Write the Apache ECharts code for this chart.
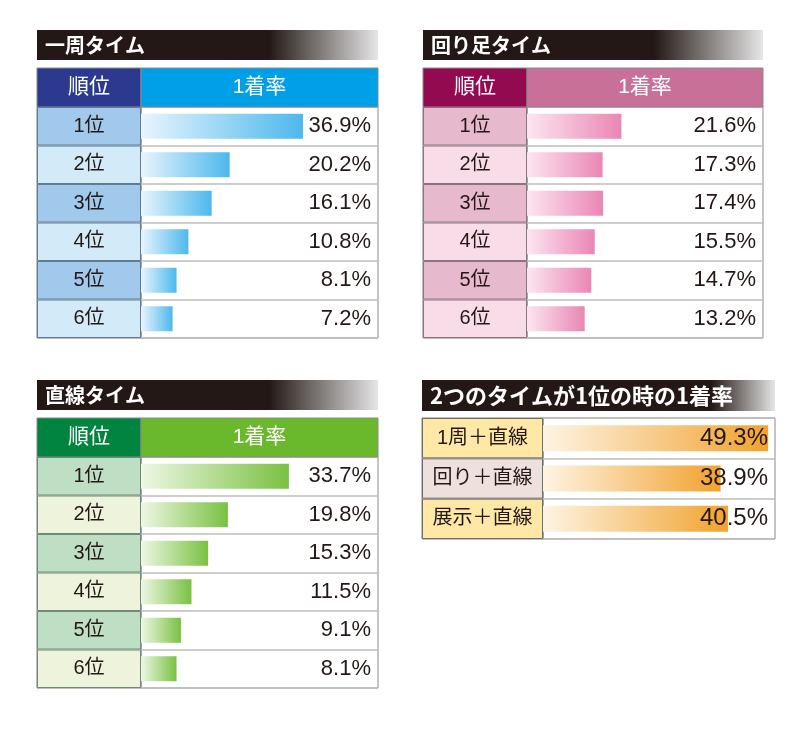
<!DOCTYPE html>
<html><head><meta charset="utf-8">
<script src="https://cdn.jsdelivr.net/npm/echarts@6/dist/echarts.min.js"></script>
<style>html,body{margin:0;padding:0;background:#fff}#c{width:800px;height:733px}</style>
</head><body><div id="c"></div>
<script>
// ---- data ----
const ranks = ['1位','2位','3位','4位','5位','6位'];
const lapValues = [36.9, 20.2, 16.1, 10.8, 8.1, 7.2];
const turnValues = [21.6, 17.3, 17.4, 15.5, 14.7, 13.2];
const straightValues = [33.7, 19.8, 15.3, 11.5, 9.1, 8.1];
const comboCategories = ['1周＋直線', '回り＋直線', '展示＋直線'];
const comboValues = [49.3, 38.9, 40.5];
const panelTitles = ['一周タイム', '回り足タイム', '直線タイム', '2つのタイムが1位の時の1着率'];
const headerLabels = ['順位', '1着率'];

// ---- styling / layout ----
const FONT = "Liberation Sans, Noto Sans CJK JP, sans-serif";
const NUMFONT = "Liberation Sans, Arial, sans-serif";
const TEXT = '#231815';
const panels = [
  {title: panelTitles[0], cats: ranks, vals: lapValues, max: 54, x: 37, labelW: 104, valW: 237,
   titleY: 30, titleH: 30, titleFont: 20, fadeAt: 0.68, headerY: 68, headerH: 39, rowsY: 107, rowsH: 231,
   hdrL: '#2B3A8F', hdrR: '#00A0E9', rowColors: ['#A0C9EB','#D3EAF9','#A0C9EB','#D3EAF9','#A0C9EB','#D3EAF9'],
   barA: '#E8F5FD', barB: '#4DB8EC', labelBorder: '#5f7c95', barW: 25, valFont: 22, catFont: 20},
  {title: panelTitles[1], cats: ranks, vals: turnValues, max: 54, x: 423, labelW: 104, valW: 236,
   titleY: 30, titleH: 30, titleFont: 20, fadeAt: 0.68, headerY: 68, headerH: 39, rowsY: 107, rowsH: 231,
   hdrL: '#940A50', hdrR: '#C97098', rowColors: ['#E6B9CD','#F8DCE8','#E6B9CD','#F8DCE8','#E6B9CD','#F8DCE8'],
   barA: '#FCE6F0', barB: '#EA86B4', labelBorder: '#8a7480', barW: 25, valFont: 22, catFont: 20},
  {title: panelTitles[2], cats: ranks, vals: straightValues, max: 54, x: 37, labelW: 104, valW: 237,
   titleY: 380, titleH: 30, titleFont: 20, fadeAt: 0.68, headerY: 418, headerH: 39, rowsY: 457, rowsH: 231,
   hdrL: '#00843F', hdrR: '#6AB92D', rowColors: ['#BFDFC5','#EDF4DB','#BFDFC5','#EDF4DB','#BFDFC5','#EDF4DB'],
   barA: '#EEF7E4', barB: '#7AC142', labelBorder: '#6f8a75', barW: 25, valFont: 22, catFont: 20},
  {title: panelTitles[3], cats: comboCategories, vals: comboValues, max: 50.8, x: 422, labelW: 121, valW: 232,
   titleY: 380, titleH: 31, titleFont: 22, fadeAt: 0.82, headerY: null, headerH: 0, rowsY: 418, rowsH: 121,
   rowColors: ['#FFE7A6','#EEE1DD','#FFE7A6'],
   barA: '#FEF4E4', barB: '#F1A22E', labelBorder: '#6e6e6e', barW: 26, valFont: 24, catFont: 20}
];

const chart = echarts.init(document.getElementById('c'));
const grid = [], xAxis = [], yAxis = [], series = [], graphic = [];

panels.forEach((p, k) => {
  const gL = grid.length;
  grid.push({left: p.x, top: p.rowsY, width: p.labelW, height: p.rowsH, show: true,
             borderColor: '#7d7d7d', borderWidth: 1, containLabel: false});
  const gV = grid.length;
  grid.push({left: p.x + p.labelW, top: p.rowsY, width: p.valW, height: p.rowsH, show: true,
             borderColor: '#8a8a8a', borderWidth: 1, containLabel: false});

  const xL = xAxis.length;
  xAxis.push({type: 'value', gridIndex: gL, min: 0, max: 1, show: false});
  const xV = xAxis.length;
  xAxis.push({type: 'value', gridIndex: gV, min: 0, max: p.max, show: false});

  const yL = yAxis.length;
  yAxis.push({type: 'category', gridIndex: gL, data: p.cats, inverse: true, show: false});
  const yV = yAxis.length;
  yAxis.push({type: 'category', gridIndex: gV, data: p.cats, inverse: true,
              axisLine: {show: false}, axisTick: {show: false}, axisLabel: {show: false},
              splitLine: {show: true, lineStyle: {color: '#bdbdbd', width: 1.5}}});
  yAxis.push({type: 'category', gridIndex: gV, position: 'right', inverse: true,
              data: p.vals.map(v => v.toFixed(1) + '%'), z: 10,
              axisLine: {show: false}, axisTick: {show: false},
              axisLabel: {show: true, inside: true, margin: 7, color: TEXT, fontSize: p.valFont, fontFamily: NUMFONT}});

  series.push({type: 'bar', xAxisIndex: xL, yAxisIndex: yL, barWidth: '100%', silent: true,
    data: p.cats.map((c, i) => ({value: 1, itemStyle: {color: p.rowColors[i]}})),
    itemStyle: {borderColor: p.labelBorder, borderWidth: 1},
    label: {show: true, position: 'inside', formatter: '{b}', color: TEXT, fontSize: p.catFont, fontFamily: FONT}});
  series.push({type: 'bar', xAxisIndex: xV, yAxisIndex: yV, barWidth: p.barW, silent: true,
    data: p.vals,
    itemStyle: {color: new echarts.graphic.LinearGradient(0, 0, 1, 0,
      [{offset: 0, color: p.barA}, {offset: 1, color: p.barB}])}});

  // title bar
  const tw = p.labelW + p.valW;
  graphic.push({type: 'rect', shape: {x: p.x, y: p.titleY, width: tw, height: p.titleH}, z: 1,
    style: {fill: new echarts.graphic.LinearGradient(0, 0, 1, 0, [
      {offset: 0, color: '#231815'}, {offset: p.fadeAt, color: '#231815'},
      {offset: p.fadeAt + (1 - p.fadeAt) * 0.45, color: '#7b7674'}, {offset: 1, color: '#e6e6e6'}])}});
  graphic.push({type: 'text', x: p.x + 8, y: p.titleY + p.titleH / 2, z: 2,
    style: {text: p.title, fill: '#ffffff', font: "bold " + p.titleFont + "px 'Noto Sans CJK JP', sans-serif",
            textAlign: 'left', textVerticalAlign: 'middle', verticalAlign: 'middle', align: 'left'}});

  // header row
  if (p.headerY !== null) {
    graphic.push({type: 'rect', shape: {x: p.x, y: p.headerY, width: p.labelW, height: p.headerH}, z: 1,
      style: {fill: p.hdrL, stroke: '#8a8a8a', lineWidth: 1}});
    graphic.push({type: 'rect', shape: {x: p.x + p.labelW, y: p.headerY, width: p.valW, height: p.headerH}, z: 1,
      style: {fill: p.hdrR, stroke: '#8a8a8a', lineWidth: 1}});
    graphic.push({type: 'text', x: p.x + p.labelW / 2, y: p.headerY + p.headerH / 2, z: 2,
      style: {text: headerLabels[0], fill: '#ffffff', font: "21px " + FONT,
              textAlign: 'center', textVerticalAlign: 'middle', align: 'center', verticalAlign: 'middle'}});
    graphic.push({type: 'text', x: p.x + p.labelW + p.valW / 2, y: p.headerY + p.headerH / 2, z: 2,
      style: {text: headerLabels[1], fill: '#ffffff', font: "21px " + FONT,
              textAlign: 'center', textVerticalAlign: 'middle', align: 'center', verticalAlign: 'middle'}});
  }
});

chart.setOption({animation: false, backgroundColor: '#ffffff', grid, xAxis, yAxis, series, graphic});
</script></body></html>
